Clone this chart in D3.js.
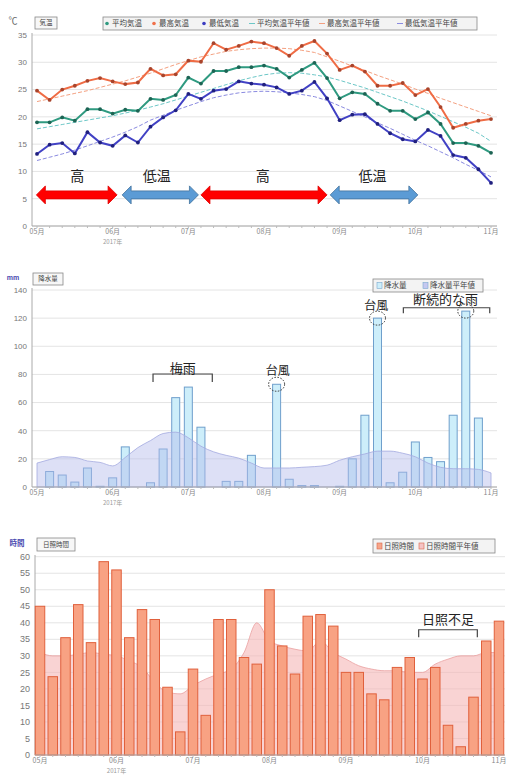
<!DOCTYPE html>
<html><head><meta charset="utf-8">
<script src="https://cdn.jsdelivr.net/npm/d3@7"></script>
<style>
body{margin:0;background:#fff;}
svg{display:block;font-family:"Noto Sans CJK JP","Noto Sans",sans-serif;}
</style>
</head><body>
<svg id="c" width="509" height="781"></svg>
<script>
// ---------- data ----------
const monthLabels = ["05月","06月","07月","08月","09月","10月","11月"];
const monthIndex = [0,6,12,18,24,30,36];
const yearLabel = "2017年";

const tempMax  = [24.8,23.1,25.0,25.7,26.6,27.1,26.5,26.0,26.3,28.8,27.6,27.8,30.3,30.1,33.5,32.3,33.0,33.8,33.5,32.6,31.2,33.0,33.9,31.6,28.6,29.4,28.3,25.7,25.7,26.2,24.0,25.1,21.8,18.0,18.7,19.3,19.6];
const tempMean = [19.0,19.0,19.9,19.3,21.4,21.4,20.6,21.3,21.1,23.3,23.1,24.0,27.2,26.1,28.4,28.4,29.1,29.1,29.4,28.8,27.2,28.6,29.9,27.1,23.4,24.5,24.2,22.4,21.1,21.1,19.6,20.8,18.7,15.2,15.2,14.7,13.4];
const tempMin  = [13.2,14.9,15.2,13.3,17.2,15.3,14.7,16.6,15.3,18.2,19.9,21.2,24.2,23.3,24.8,25.1,26.5,26.1,25.9,25.4,24.2,24.8,26.4,23.4,19.4,20.4,20.5,18.7,17.0,15.9,15.5,17.6,16.5,13.0,12.5,10.4,7.9];
const normMax  = [22.8,23.3,23.8,24.3,24.8,25.4,26.0,26.6,27.3,28.0,28.8,29.6,30.3,31.0,31.5,32.0,32.3,32.5,32.6,32.6,32.5,32.2,31.8,31.0,30.2,29.3,28.5,27.6,26.8,26.0,25.1,24.3,23.4,22.6,21.8,21.0,20.2];
const normMean = [17.8,18.2,18.6,19.0,19.4,19.8,20.2,20.7,21.2,21.8,22.4,23.1,23.8,24.5,25.2,25.9,26.6,27.2,27.7,28.0,28.1,28.0,27.7,27.3,26.7,26.0,25.3,24.5,23.7,22.9,22.0,21.1,20.1,19.1,18.1,17.0,15.5];
const normMin  = [12.0,12.6,13.2,13.9,14.7,15.5,16.3,17.2,18.2,19.4,20.3,21.2,22.0,22.8,23.5,24.0,24.4,24.6,24.7,24.6,24.4,24.1,23.7,23.0,22.0,21.0,20.0,18.9,17.9,16.8,15.7,14.7,13.6,12.5,11.3,10.2,9.0];
const tempTicks = [0,5,10,15,20,25,30,35];

const precip     = [0,11,8.5,3.5,13.5,0.5,6.5,28.5,0,3,27,63.5,71,42.5,0,4,4,22.5,0,73,5.5,1,1,0,0.5,20,51,120,3,10.5,32,21,18,51,125,49,0];
const precipNorm = [17,19.5,21.5,21,18.5,17.5,15,21,28,33,38,39,35,29,25,22.5,20.5,17,13.5,13.5,13.5,14,14.5,15.5,19,21.5,23.5,25.5,25.5,24,21.5,17,14,13,13,12.5,10];
const precipTicks = [0,20,40,60,80,100,120,140];

const sunshine     = [45,23.7,35.5,45.5,34,58.5,56,35.5,44,41,20.5,7,26,12,41,41,29.5,27.5,50,33,24.5,42,42.5,39,25,25,18.5,16.7,26.5,29.5,23,26.5,9,2.5,17.5,34.5,40.5];
const sunshineNorm = [31,30,30,30.5,31,30.5,30,28.5,26.5,22,19,18.5,21,23,24.5,26,31,40,34.5,33,32,31.5,34.5,31,29,27,26,25.5,25.5,25,25,27.5,29,30,30,31,31];
const sunTicks = [0,5,10,15,20,25,30,35,40,45,50,55,60];

const tempLegend = ["平均気温","最高気温","最低気温","平均気温平年値","最高気温平年値","最低気温平年値"];
const precipLegend = ["降水量","降水量平年値"];
const sunLegend = ["日照時間","日照時間平年値"];

// ---------- helpers ----------
const svg = d3.select("#c");
const idx = d3.range(37);

function grid(g, y, ticks, x0, x1, labelX, fs){
  g.selectAll(null).data(ticks).join("line")
    .attr("x1",x0).attr("x2",x1).attr("y1",d=>y(d)).attr("y2",d=>y(d))
    .attr("stroke","#e4e4e4").attr("stroke-width",1);
  g.selectAll(null).data(ticks).join("text")
    .attr("x",labelX).attr("y",d=>y(d)).attr("dy","0.35em")
    .attr("text-anchor","end").attr("font-size",fs).attr("fill","#777")
    .attr("font-family","Liberation Sans, Arial, sans-serif")
    .text(d=>d);
}
function xaxis(g, x, y0, x0, x1, fs){
  g.append("line").attr("x1",x0).attr("x2",x1).attr("y1",y0).attr("y2",y0).attr("stroke","#aaa");
  g.selectAll(null).data(idx).join("line")
    .attr("x1",d=>x(d)).attr("x2",d=>x(d)).attr("y1",y0).attr("y2",y0+2).attr("stroke","#bbb");
  g.selectAll(null).data(monthIndex).join("text")
    .attr("x",d=>x(d)).attr("y",y0+8).attr("text-anchor","middle")
    .attr("font-size",fs).attr("fill","#888").text((d,i)=>monthLabels[i]);
  g.append("text").attr("x",x(6)).attr("y",y0+17.5).attr("text-anchor","middle")
    .attr("font-size",fs-1).attr("fill","#999").text(yearLabel);
}
function yline(g, xPos, yTop, yBot){
  g.append("line").attr("x1",xPos).attr("x2",xPos).attr("y1",yTop).attr("y2",yBot).attr("stroke","#aaa");
}
function titleBox(g, x, y, w, h, txt){
  g.append("rect").attr("x",x).attr("y",y).attr("width",w).attr("height",h)
    .attr("fill","#f7f7f7").attr("stroke","#888").attr("stroke-width",0.8);
  g.append("text").attr("x",x+w/2).attr("y",y+h/2).attr("dy","0.35em").attr("text-anchor","middle")
    .attr("font-size",6.5).attr("fill","#444").text(txt);
}
function bracket(g, xa, xb, yTop, yBot){
  g.append("path").attr("d",`M${xa},${yBot}V${yTop}H${xb}V${yBot}`)
    .attr("fill","none").attr("stroke","#444").attr("stroke-width",1.2);
}
function note(g, x, y, txt, fs){
  g.append("text").attr("x",x).attr("y",y).attr("dy","0.35em").attr("text-anchor","middle")
    .attr("font-size",fs).attr("fill","#222").text(txt);
}
function circ(g, x, y){
  g.append("ellipse").attr("cx",x).attr("cy",y).attr("rx",8).attr("ry",7)
    .attr("fill","none").attr("stroke","#333").attr("stroke-width",1).attr("stroke-dasharray","1.5,1.5");
}

// ---------- chart 1: temperature ----------
{
  const g = svg.append("g");
  const x = d3.scaleLinear().domain([0,36]).range([37,491]);
  const y = d3.scaleLinear().domain([0,35]).range([226,35]);
  grid(g, y, tempTicks, 32, 497, 27, 8);
  yline(g, 32, 33, 226);
  xaxis(g, x, 226, 32, 497, 7);

  g.append("text").attr("x",13).attr("y",24).attr("text-anchor","middle").attr("font-size",9).attr("fill","#666").text("℃");
  titleBox(g, 35, 17, 22, 12, "気温");

  // legend
  g.append("rect").attr("x",103).attr("y",17).attr("width",374).attr("height",13)
    .attr("fill","#f3f3f3").attr("stroke","#888").attr("stroke-width",0.8);
  const legColors = ["#2f9a80","#f0704a","#3c3cc0","#6cc7c7","#f4a080","#8a8ae0"];
  const legX = [107,154,204,252,322,400];
  const lg = g.selectAll(null).data(tempLegend).join("g").attr("transform",(d,i)=>`translate(${legX[i]},23.5)`);
  lg.filter((d,i)=>i<3).append("circle").attr("r",1.8).attr("fill",(d,i)=>legColors[i]);
  lg.filter((d,i)=>i>=3).append("line").attr("x1",-3).attr("x2",3).attr("stroke",(d,i)=>legColors[i+3]);
  lg.append("text").attr("x",5).attr("dy","0.35em").attr("font-size",7.5).attr("fill","#444").text(d=>d);

  const line = d3.line().x((d,i)=>x(i)).y(d=>y(d));
  const normals = [[normMean,"#6cc7c7"],[normMax,"#f4a080"],[normMin,"#8a8ae0"]];
  normals.forEach(([arr,c])=>{
    g.append("path").attr("d",line(arr)).attr("fill","none").attr("stroke",c)
      .attr("stroke-width",1).attr("stroke-dasharray","4,2");
  });
  const series = [[tempMax,"#ef6c45","#a8442c"],[tempMean,"#2f9a80","#1d6454"],[tempMin,"#4141c4","#20207e"]];
  series.forEach(([arr,c,dc])=>{
    g.append("path").attr("d",line(arr)).attr("fill","none").attr("stroke",c).attr("stroke-width",2);
    g.selectAll(null).data(arr).join("circle").attr("cx",(d,i)=>x(i)).attr("cy",d=>y(d))
      .attr("r",1.9).attr("fill",dc);
  });

  // arrows
  const arrows = [[-0.05,6.35,"#ff0000","#e00000"],[6.75,12.8,"#5b9bd5","#41719c"],[13.0,23.0,"#ff0000","#e00000"],[23.25,30.2,"#5b9bd5","#41719c"]];
  const ay = y(5.7);
  arrows.forEach(([a,b,c,sc])=>{
    const xa = x(a), xb = x(b), hl = 9, sh = 4, hh = 9;
    const p = `M${xa},${ay} L${xa+hl},${ay-hh} L${xa+hl},${ay-sh} L${xb-hl},${ay-sh} L${xb-hl},${ay-hh} L${xb},${ay} L${xb-hl},${ay+hh} L${xb-hl},${ay+sh} L${xa+hl},${ay+sh} L${xa+hl},${ay+hh} Z`;
    g.append("path").attr("d",p).attr("fill",c).attr("stroke",sc).attr("stroke-width",0.8);
  });
  const arrowText = [[3.2,"高"],[9.5,"低温"],[17.9,"高"],[26.6,"低温"]];
  arrowText.forEach(([i,t])=>note(g, x(i), y(9.1), t, 14));
}

// ---------- chart 2: precipitation ----------
{
  const g = svg.append("g");
  const x = d3.scaleLinear().domain([0,36]).range([37,491]);
  const y = d3.scaleLinear().domain([0,140]).range([487,290]);
  grid(g, y, precipTicks, 32, 497, 27, 8);
  yline(g, 32, 288, 487);

  g.append("text").attr("x",13).attr("y",280).attr("text-anchor","middle").attr("font-size",6.5).attr("font-weight","bold").attr("fill","#4a4ab0").text("mm");
  titleBox(g, 33, 273, 30, 12, "降水量");

  g.append("rect").attr("x",373).attr("y",279).attr("width",110).attr("height",13)
    .attr("fill","#f3f3f3").attr("stroke","#888").attr("stroke-width",0.8);
  const lx = [377,423];
  const lg = g.selectAll(null).data(precipLegend).join("g").attr("transform",(d,i)=>`translate(${lx[i]},285.5)`);
  lg.append("rect").attr("x",0).attr("y",-3).attr("width",5).attr("height",6).attr("fill",(d,i)=>i?"#c5c8f0":"#cdeefa").attr("stroke","#7aa8cf").attr("stroke-width",0.6);
  lg.append("text").attr("x",7).attr("dy","0.35em").attr("font-size",7.5).attr("fill","#444").text(d=>d);

  const bw = 8;
  g.selectAll(null).data(precip).join("rect")
    .attr("x",(d,i)=>x(i)-bw/2).attr("y",d=>y(d)).attr("width",bw).attr("height",d=>y(0)-y(d))
    .attr("fill","#cdeefa").attr("stroke","#6f9fcc").attr("stroke-width",1);
  const area = d3.area().x((d,i)=>x(i)).y0(y(0)).y1(d=>y(d)).curve(d3.curveMonotoneX);
  g.append("path").attr("d",area(precipNorm)).attr("fill","#b4bbec").attr("fill-opacity",0.45)
    .attr("stroke","#a3aadf").attr("stroke-width",0.8);
  xaxis(g, x, 487, 32, 497, 7);

  bracket(g, x(9.2), x(13.9), y(80.3), y(74.6));
  note(g, x(11.55), y(84.6), "梅雨", 13);
  note(g, x(19.1), y(82.5), "台風", 12);
  circ(g, x(19), y(73));
  note(g, x(26.9), y(128.6), "台風", 12);
  circ(g, x(27), y(120));
  bracket(g, x(29.05), x(35.9), y(127.4), y(123.4));
  note(g, x(32.4), y(133.5), "断続的な雨", 13);
  circ(g, x(34), y(125));
}

// ---------- chart 3: sunshine ----------
{
  const g = svg.append("g");
  const x = d3.scaleLinear().domain([0,36]).range([40,499]);
  const y = d3.scaleLinear().domain([0,60]).range([755,556.7]);
  grid(g, y, sunTicks, 35, 505, 30, 9);
  yline(g, 35, 555, 755);

  g.append("text").attr("x",17).attr("y",546).attr("text-anchor","middle").attr("font-size",7.5).attr("font-weight","bold").attr("fill","#4a4ab0").text("時間");
  titleBox(g, 37, 538, 38, 13, "日照時間");

  g.append("rect").attr("x",373).attr("y",539).attr("width",122).attr("height",14)
    .attr("fill","#f3f3f3").attr("stroke","#888").attr("stroke-width",0.8);
  const lx = [377,419];
  const lg = g.selectAll(null).data(sunLegend).join("g").attr("transform",(d,i)=>`translate(${lx[i]},546)`);
  lg.append("rect").attr("x",0).attr("y",-3).attr("width",5).attr("height",6).attr("fill",(d,i)=>i?"#f6c4c4":"#f7a68a").attr("stroke","#d9694a").attr("stroke-width",0.6);
  lg.append("text").attr("x",7).attr("dy","0.35em").attr("font-size",7.5).attr("fill","#444").text(d=>d);

  const area = d3.area().x((d,i)=>x(i)).y0(y(0)).y1(d=>y(d)).curve(d3.curveMonotoneX);
  g.append("path").attr("d",area(sunshineNorm)).attr("fill","#f5b5b5").attr("fill-opacity",0.6)
    .attr("stroke","#eaa0a0").attr("stroke-width",0.8);
  const bw = 9.5;
  g.selectAll(null).data(sunshine).join("rect")
    .attr("x",(d,i)=>x(i)-bw/2).attr("y",d=>y(d)).attr("width",bw).attr("height",d=>y(0)-y(d))
    .attr("fill","#f8a283").attr("stroke","#e0603c").attr("stroke-width",1);
  xaxis(g, x, 755, 35, 505, 7);

  note(g, x(32), y(40.9), "日照不足", 13);
  bracket(g, x(29.7), x(34.3), y(37.9), y(35.6));
}
</script>
</body></html>
